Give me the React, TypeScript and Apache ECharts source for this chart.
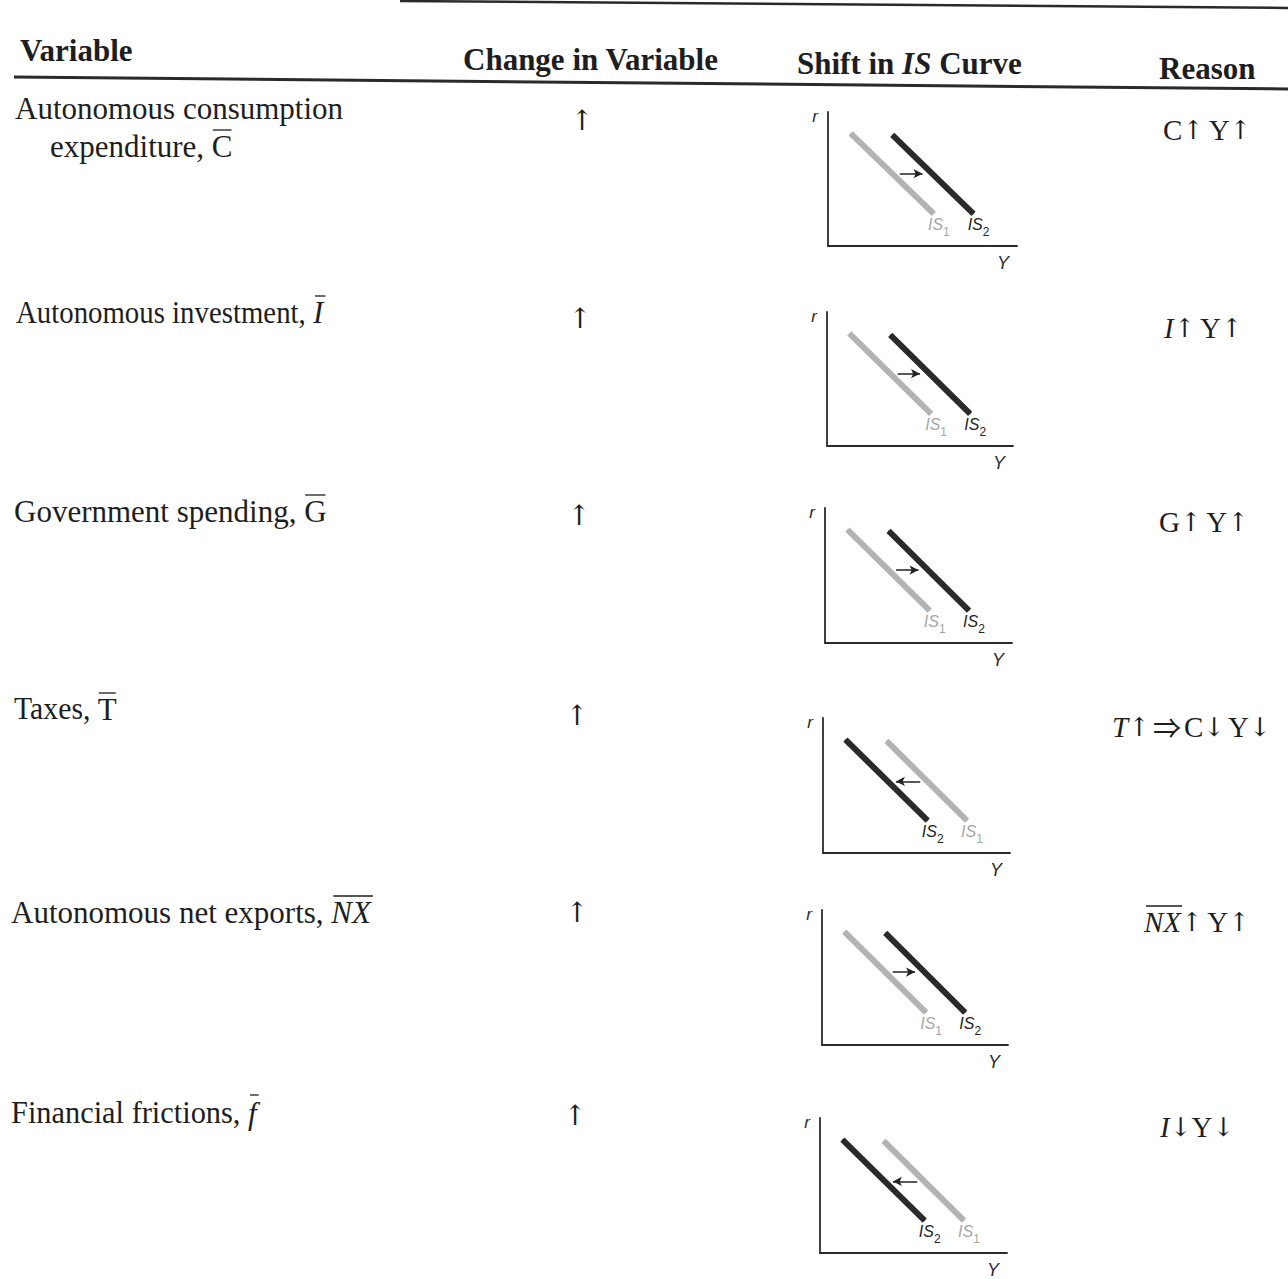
import React, { useEffect, useRef } from 'react';
import * as echarts from 'echarts';

// ---------------- content / data ----------------
const headerTitles = ['Variable', 'Change in Variable', 'Shift in IS Curve', 'Reason'];

const variableNameLines: string[][] = [
  ['Autonomous consumption', 'expenditure, '],
  ['Autonomous investment, '],
  ['Government spending, '],
  ['Taxes, '],
  ['Autonomous net exports, '],
  ['Financial frictions, '],
];
const variableSymbols = ['C', 'I', 'G', 'T', 'NX', 'f'];
const variableSymbolItalic = [false, true, false, false, true, true];
const changeInVariable = ['↑', '↑', '↑', '↑', '↑', '↑'];
const shiftDirection = ['right', 'right', 'right', 'left', 'right', 'left'];

// reasons as [token, style] pairs: u = upright, i = italic, a = arrow, d = implies, s/t = spaces
const reasonTokens: [string, string][][] = [
  [['C', 'u'], ['↑', 'a'], [' ', 's'], ['Y', 'u'], ['↑', 'a']],
  [['I', 'i'], ['↑', 'a'], [' ', 's'], ['Y', 'u'], ['↑', 'a']],
  [['G', 'u'], ['↑', 'a'], [' ', 's'], ['Y', 'u'], ['↑', 'a']],
  [['T', 'i'], ['↑', 'a'], [' ', 't'], ['⇒', 'd'], [' ', 't'], ['C', 'u'], ['↓', 'a'], [' ', 't'], ['Y', 'u'], ['↓', 'a']],
  [['NX', 'i'], ['↑', 'a'], [' ', 's'], ['Y', 'u'], ['↑', 'a']],
  [['I', 'i'], ['↓', 'a'], ['Y', 'u'], ['↓', 'a']],
];
const reasonOverlined = ['', '', '', '', 'NX', ''];

// IS curves in axis units (x = Y output, y = r interest rate), each [start, end]
const isInnerCurve = [[12, 84], [56, 24]];
const isOuterCurve = [[34, 83], [77, 24]];
const shiftArrowRight = [[38, 54], [50, 54]];
const shiftArrowLeft = [[52, 53], [39, 53]];

// ---------------- layout ----------------
const W = 1288;
const H = 1279;
const gridBoxes = [
  [828, 112, 189, 134],
  [827, 312, 186, 134],
  [825, 508, 187, 135],
  [823, 718, 187, 135],
  [822, 910, 186, 135],
  [820, 1118, 187, 135],
];
const varTextPos = [
  [[15, 108], [50, 146]],
  [[16, 312]],
  [[14, 511]],
  [[14, 709]],
  [[11, 912]],
  [[11, 1113]],
];
const varScaleX = [1, 0.93, 1, 0.96, 1, 0.98];
const changePos = [[582, 120], [580, 318], [579, 515], [577, 715], [577, 912], [575, 1115]];
const reasonPos = [[1163, 130], [1164, 328], [1159, 522], [1112, 727], [1144, 922], [1160, 1127]];

const SERIF = '"Liberation Serif", "Times New Roman", serif';
const ARROW_FONT = '"DejaVu Serif", serif';
const WIDE_ARROW_FONT = '"Noto Sans CJK JP", "DejaVu Sans", sans-serif';
const SANS = '"Liberation Sans", Arial, sans-serif';
const BODY_SIZE = 31;
const REASON_SIZE = 29;
const HEAD_SIZE = 31;
const INK = '#1e1e1e';
const GREY_CURVE = '#b3b3b3';
const DARK_CURVE = '#2a2a2a';

function textWidth(text: string, size: number, italic = false, family = SERIF) {
  const t = new echarts.graphic.Text({
    style: { text, fontSize: size, fontFamily: family, fontStyle: italic ? 'italic' : 'normal' },
  });
  return t.getBoundingRect().width;
}

function isLabel(sub: string, color: string) {
  return {
    show: true,
    position: 'bottom',
    distance: 2,
    offset: [5, 0],
    formatter: `{m|IS}{s|${sub}}`,
    rich: {
      m: { fontFamily: SANS, fontStyle: 'italic', fontSize: 16, color, lineHeight: 22, verticalAlign: 'top' },
      s: { fontFamily: SANS, fontSize: 12, color, lineHeight: 22, verticalAlign: 'bottom' },
    },
  };
}

function buildOption() {
  const graphics: any[] = [];

  // header rules (scan is slightly tilted)
  graphics.push({ type: 'line', shape: { x1: 400, y1: 1, x2: 1288, y2: 8 }, style: { stroke: '#2a2a2a', lineWidth: 2.5 } });
  graphics.push({ type: 'line', shape: { x1: 14, y1: 77, x2: 1288, y2: 89 }, style: { stroke: '#2a2a2a', lineWidth: 3 } });

  const headStyle = { fontFamily: SERIF, fontWeight: 'bold', fontSize: HEAD_SIZE, fill: INK, align: 'left', verticalAlign: 'middle' };
  graphics.push({ type: 'text', x: 20, y: 50, style: { ...headStyle, text: headerTitles[0] } });
  graphics.push({ type: 'text', x: 463, y: 59, style: { ...headStyle, text: headerTitles[1] } });
  graphics.push({
    type: 'text', x: 797, y: 63,
    style: {
      ...headStyle,
      text: '{b|Shift in }{i|IS}{b| Curve}',
      rich: {
        b: { fontFamily: SERIF, fontWeight: 'bold', fontSize: HEAD_SIZE, fill: INK },
        i: { fontFamily: SERIF, fontWeight: 'bold', fontStyle: 'italic', fontSize: HEAD_SIZE, fill: INK },
      },
    },
  });
  graphics.push({ type: 'text', x: 1159, y: 68, style: { ...headStyle, text: headerTitles[3] } });

  const bodyStyle = { fontFamily: SERIF, fontSize: BODY_SIZE, fill: INK, align: 'left', verticalAlign: 'middle' };

  variableNameLines.forEach((lines, i) => {
    const sc = varScaleX[i];
    lines.forEach((line, j) => {
      const [x, y] = varTextPos[i][j];
      graphics.push({ type: 'text', x, y, scaleX: sc, style: { ...bodyStyle, text: line } });
      if (j === lines.length - 1) {
        const sx = x + textWidth(line, BODY_SIZE) * sc;
        const sym = variableSymbols[i];
        const ital = variableSymbolItalic[i];
        graphics.push({ type: 'text', x: sx, y, style: { ...bodyStyle, text: sym, fontStyle: ital ? 'italic' : 'normal' } });
        const sw = textWidth(sym, BODY_SIZE, ital);
        const barY = sym === 'f' ? y - 18 : y - 16;
        graphics.push({
          type: 'line',
          shape: { x1: sx + (ital ? 2 : 1), y1: barY, x2: sx + sw + (ital ? 2 : -1), y2: barY },
          style: { stroke: INK, lineWidth: 1.3 },
        });
      }
    });
    const [cx, cy] = changePos[i];
    graphics.push({
      type: 'text', x: cx, y: cy,
      style: { ...bodyStyle, text: changeInVariable[i], align: 'center', fontFamily: ARROW_FONT, fontSize: 28, fontWeight: 'normal' },
    });

    const [rx, ry] = reasonPos[i];
    const rich = {
      u: { fontFamily: SERIF, fontSize: REASON_SIZE, fill: INK },
      i: { fontFamily: SERIF, fontStyle: 'italic', fontSize: REASON_SIZE, fill: INK },
      a: { fontFamily: ARROW_FONT, fontSize: 26, fill: INK },
      d: { fontFamily: WIDE_ARROW_FONT, fontSize: 28, fill: INK },
      s: { fontFamily: SERIF, fontSize: 18, fill: INK },
      t: { fontFamily: SERIF, fontSize: 12, fill: INK },
    };
    const txt = reasonTokens[i].map(([t, s]) => `{${s}|${t}}`).join('');
    graphics.push({ type: 'text', x: rx, y: ry, style: { ...bodyStyle, text: txt, rich } });
    if (reasonOverlined[i]) {
      const ow = textWidth(reasonOverlined[i], REASON_SIZE, true);
      graphics.push({
        type: 'line',
        shape: { x1: rx + 2, y1: ry - 16, x2: rx + ow + 1, y2: ry - 16 },
        style: { stroke: INK, lineWidth: 1.3 },
      });
    }
  });

  const grids: any[] = [];
  const xAxes: any[] = [];
  const yAxes: any[] = [];
  const series: any[] = [];

  gridBoxes.forEach(([left, top, width, height], i) => {
    grids.push({ left, top, width, height, containLabel: false });
    const axisCommon = {
      type: 'value', min: 0, max: 100, gridIndex: i,
      axisLine: { show: true, onZero: false, lineStyle: { color: '#2b2b2b', width: 1.8 } },
      axisTick: { show: false }, axisLabel: { show: false }, splitLine: { show: false },
    };
    xAxes.push({
      ...axisCommon, name: 'Y', nameLocation: 'end', nameGap: -8,
      nameTextStyle: { fontFamily: SANS, fontStyle: 'italic', fontSize: 18, color: '#2b2b2b', align: 'right', verticalAlign: 'top', padding: [8, 0, 0, 0] },
    });
    yAxes.push({
      ...axisCommon, name: 'r', nameLocation: 'end', nameGap: 4,
      nameTextStyle: { fontFamily: SANS, fontStyle: 'italic', fontSize: 17, color: '#2b2b2b', align: 'right', verticalAlign: 'top', padding: [0, 10, 0, 0] },
    });

    const right = shiftDirection[i] === 'right';
    const is1 = right ? isInnerCurve : isOuterCurve;
    const is2 = right ? isOuterCurve : isInnerCurve;
    const arrow = right ? shiftArrowRight : shiftArrowLeft;
    const lineCommon = {
      type: 'line', xAxisIndex: i, yAxisIndex: i, showSymbol: true, symbol: 'circle', symbolSize: 1,
      silent: true, animation: false,
    };
    series.push({
      ...lineCommon, name: `IS1-${i}`,
      lineStyle: { color: GREY_CURVE, width: 6 }, itemStyle: { color: GREY_CURVE },
      data: [is1[0], { value: is1[1], label: isLabel('1', '#a5a5a5') }],
    });
    series.push({
      ...lineCommon, name: `IS2-${i}`,
      lineStyle: { color: DARK_CURVE, width: 6 }, itemStyle: { color: DARK_CURVE },
      data: [is2[0], { value: is2[1], label: isLabel('2', '#222') }],
      markLine: {
        silent: true, animation: false,
        symbol: ['none', 'arrow'], symbolSize: [7, 9],
        lineStyle: { color: '#222', width: 1.5, type: 'solid' },
        label: { show: false },
        data: [[{ coord: arrow[0] }, { coord: arrow[1] }]],
      },
    });
  });

  return {
    animation: false,
    backgroundColor: '#ffffff',
    grid: grids,
    xAxis: xAxes,
    yAxis: yAxes,
    series,
    graphic: graphics,
  };
}

export default function App() {
  const ref = useRef<HTMLDivElement>(null);
  useEffect(() => {
    const chart = echarts.init(ref.current!, null, { renderer: 'svg' });
    chart.setOption(buildOption() as any);
    return () => chart.dispose();
  }, []);
  return (
    <div
      ref={ref}
      style={{ position: 'absolute', left: 0, top: 0, width: W, height: H, background: '#fff' }}
    />
  );
}
